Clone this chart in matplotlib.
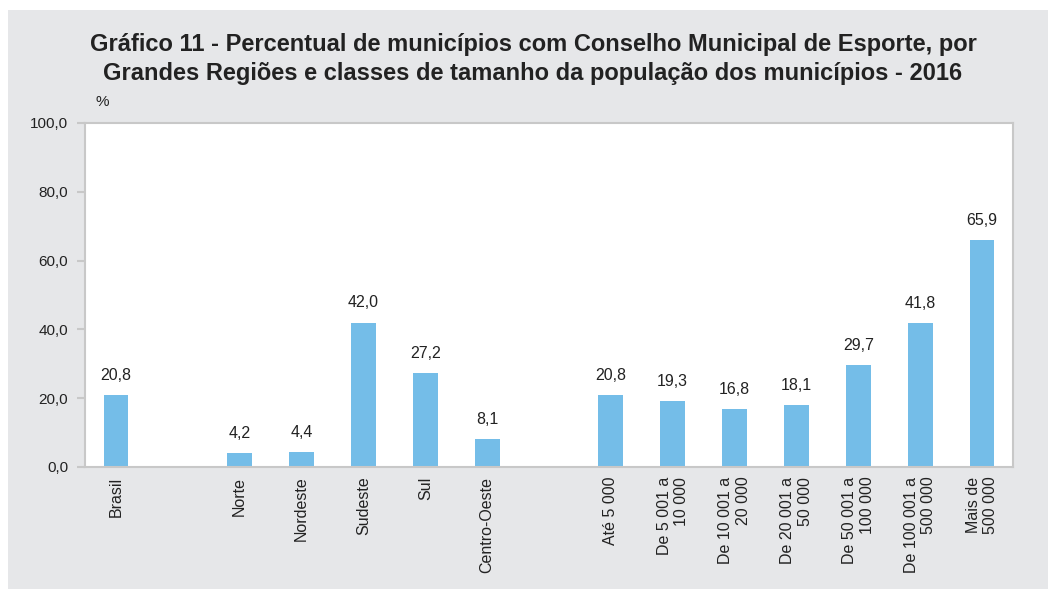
import numpy as np
import matplotlib.pyplot as plt
from matplotlib.patches import Rectangle

categories = ['Brasil', 'Norte', 'Nordeste', 'Sudeste', 'Sul', 'Centro-Oeste',
              'Até 5 000', 'De 5 001 a\n10 000', 'De 10 001 a\n20 000',
              'De 20 001 a\n50 000', 'De 50 001 a\n100 000',
              'De 100 001 a\n500 000', 'Mais de\n500 000']
values = [20.8, 4.2, 4.4, 42.0, 27.2, 8.1,
          20.8, 19.3, 16.8, 18.1, 29.7, 41.8, 65.9]
yticks = [0, 20, 40, 60, 80, 100]

# slots with gaps between groups
x = np.array([0, 2, 3, 4, 5, 6, 8, 9, 10, 11, 12, 13, 14])

plt.rcParams['font.family'] = ['Liberation Sans', 'DejaVu Sans']
txt = '#222222'

fig = plt.figure(figsize=(10.48, 5.89), dpi=100, facecolor='white')
fig.patches.append(Rectangle((8/1048, 0), 1, 1 - 10/589, transform=fig.transFigure,
                             facecolor='#E6E7E9', edgecolor='none', zorder=-10))

ax = fig.add_axes([85/1048, 1 - 467/589, (1013-85)/1048, (467-123)/589])
ax.set_facecolor('white')

bars = ax.bar(x, values, width=0.4, color='#74BDE8')
for b, v in zip(bars, values):
    ax.text(b.get_x() + b.get_width()/2, v + 3.5, f"{v:.1f}".replace('.', ','),
            ha='center', va='bottom', fontsize=11.5, color=txt)

ax.set_xlim(-0.5, 14.5)
ax.set_ylim(0, 100)
ax.set_yticks(yticks)
ax.set_yticklabels([f"{t:.1f}".replace('.', ',') for t in yticks], fontsize=11, color=txt)
ax.set_xticks(x)
ax.set_xticklabels(categories, rotation=90, ha='center', va='top', multialignment='right',
                   fontsize=11.5, color=txt)
ax.tick_params(axis='x', length=0, pad=7)
ax.tick_params(axis='y', length=6, width=1.5, color='#C8C8C8', pad=6)

for s in ax.spines.values():
    s.set_color('#C8C8C8')
    s.set_linewidth(1.5)

ax.text(-0.33, 104, '%', fontsize=11, color=txt, ha='left', va='bottom')

fig.text(533/1048, 1 - 59/589,
         'Gráfico 11 - Percentual de municípios com Conselho Municipal de Esporte, por\n'
         'Grandes Regiões e classes de tamanho da população dos municípios - 2016',
         ha='center', va='center', fontsize=17, fontweight='bold', color=txt,
         linespacing=1.3)

fig.savefig('out.png', dpi=100, facecolor=fig.get_facecolor())
